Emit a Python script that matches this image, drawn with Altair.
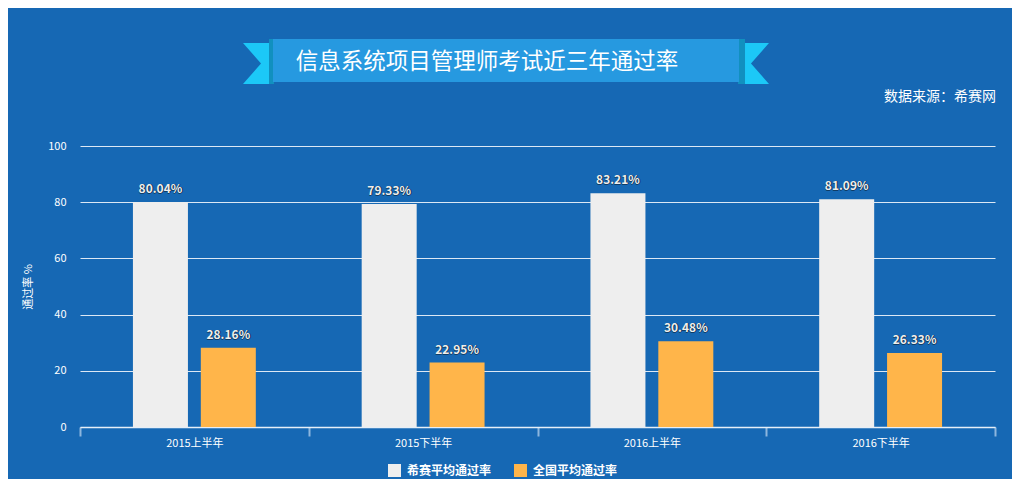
import altair as alt
import pandas as pd

periods = ["2015上半年", "2015下半年", "2016上半年", "2016下半年"]
series_names = ["希赛平均通过率", "全国平均通过率"]
xisai_rates = [80.04, 79.33, 83.21, 81.09]
national_rates = [28.16, 22.95, 30.48, 26.33]
y_ticks = [0, 20, 40, 60, 80, 100]

title_text = "信息系统项目管理师考试近三年通过率"
source_text = "数据来源：希赛网"

rows = []
for p, a, b in zip(periods, xisai_rates, national_rates):
    rows.append({"period": p, "series": series_names[0], "value": a, "label": f"{a:.2f}%"})
    rows.append({"period": p, "series": series_names[1], "value": b, "label": f"{b:.2f}%"})
df = pd.DataFrame(rows)

BG = "#1668B4"
FONT = "Noto Sans CJK SC"

x_enc = alt.X("period:N", sort=periods, title=None,
              scale=alt.Scale(paddingInner=0, paddingOuter=0),
              axis=alt.Axis(labelAngle=0, labelColor="white", labelFontSize=11,
                            tickBand="extent", tickColor="#8DB6DE", tickWidth=2,
                            tickSize=9, labelPadding=1,
                            domainColor="#E6EFF8", domainWidth=1.5))
xoff_enc = alt.XOffset("series:N", sort=series_names,
                       scale=alt.Scale(paddingInner=0.19, paddingOuter=0.78))
y_enc = alt.Y("value:Q", title="通过率 %",
              scale=alt.Scale(domain=[0, 100], nice=False),
              axis=alt.Axis(values=y_ticks, grid=True, gridColor="#DCE8F5",
                            gridWidth=1, ticks=False, domain=False,
                            labelColor="white", labelFontSize=11, labelPadding=14,
                            titleColor="white", titleFontSize=11,
                            titleFontWeight="normal", titlePadding=14))

base = alt.Chart(df)

bars = base.mark_bar(size=55).encode(
    x=x_enc, xOffset=xoff_enc, y=y_enc,
    color=alt.Color("series:N", sort=series_names,
                    scale=alt.Scale(domain=series_names, range=["#EEEEEE", "#FFB54A"]),
                    legend=alt.Legend(title=None, orient="none", direction="horizontal",
                                      legendX=308, legendY=318,
                                      symbolType="square", symbolSize=169,
                                      symbolStrokeWidth=0, labelColor="white",
                                      labelFontSize=12, labelFontWeight="bold",
                                      labelOffset=6, columnPadding=22)),
)

common = dict(
    x=alt.X("period:N", sort=periods),
    xOffset=alt.XOffset("series:N", sort=series_names),
    y="value:Q", text="label:N",
)

shadow2 = base.mark_text(baseline="bottom", dy=-5, dx=0, fontSize=12,
                         fontWeight="bold", color="#0B1F33", opacity=0.6).encode(**common)
shadow = base.mark_text(baseline="bottom", dy=-6, dx=1, fontSize=12,
                        fontWeight="bold", color="#0B1F33", opacity=0.8).encode(**common)
labels = base.mark_text(baseline="bottom", dy=-6, fontSize=12,
                        fontWeight="bold", color="#EEEEEE").encode(**common)

deco = alt.Chart(alt.Data(values=[{"k": 1}]))

left_tail = deco.mark_point(
    shape="M-0.634,-1L0.634,-1L0.634,1L-0.634,1L0.244,0Z",
    filled=True, opacity=1, strokeWidth=0, color="#1CC8F7", size=1681).encode(
    x=alt.value(176), y=alt.value(-82.5))
right_tail = deco.mark_point(
    shape="M-0.585,-1L0.585,-1L-0.293,0L0.585,1L-0.585,1Z",
    filled=True, opacity=1, strokeWidth=0, color="#1CC8F7", size=1681).encode(
    x=alt.value(677), y=alt.value(-82.5))
left_fold = deco.mark_rect(color="#1190BF").encode(
    x=alt.value(189), x2=alt.value(194), y=alt.value(-107), y2=alt.value(-62))
right_fold = deco.mark_rect(color="#1190BF").encode(
    x=alt.value(658), x2=alt.value(665), y=alt.value(-107), y2=alt.value(-62))
banner = deco.mark_rect(color="#2699E0").encode(
    x=alt.value(193), x2=alt.value(659), y=alt.value(-107), y2=alt.value(-64))
title = deco.mark_text(text=title_text, fontSize=22.5, color="white",
                       align="center", baseline="middle", font=FONT).encode(
    x=alt.value(407), y=alt.value(-84))
source = deco.mark_text(text=source_text, fontSize=14, color="white",
                        align="right", baseline="middle", font=FONT).encode(
    x=alt.value(916), y=alt.value(-49))

chart = alt.layer(
    left_tail, right_tail, left_fold, right_fold, banner, title, source,
    bars, shadow2, shadow, labels,
).properties(
    width=915, height=281,
    autosize=alt.AutoSizeParams(type="none"),
    padding={"left": 72, "top": 138, "right": 17, "bottom": 52},
    background=BG,
).configure(font=FONT).configure_view(stroke=None)

chart.save("out.html", embed_options={"renderer": "svg", "actions": False})
